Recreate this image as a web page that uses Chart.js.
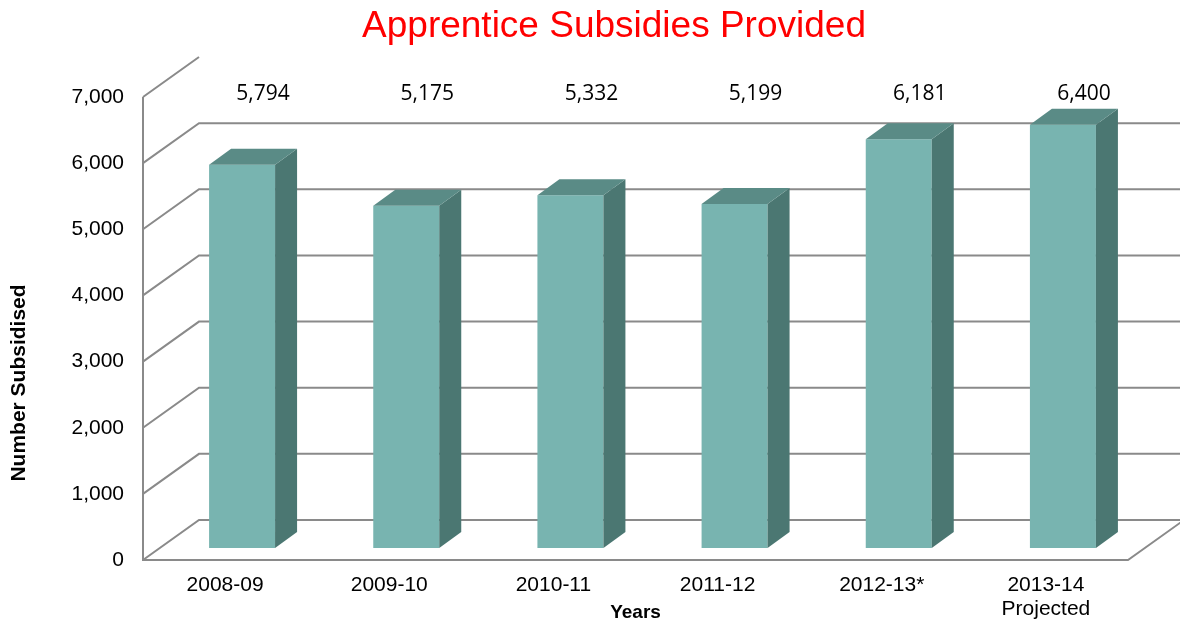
<!DOCTYPE html>
<html>
<head>
<meta charset="utf-8">
<title>Apprentice Subsidies Provided</title>
<script src="https://cdn.jsdelivr.net/npm/chart.js@4.4.1/dist/chart.umd.min.js"></script>
<style>
  html, body { margin: 0; padding: 0; background: #ffffff; }
  canvas { display: block; }
</style>
</head>
<body>
<canvas id="chart" width="1180" height="625"></canvas>
<script>
// Subsidised apprentices per financial year
const years = ['2008-09', '2009-10', '2010-11', '2011-12', '2012-13*', ['2013-14', 'Projected']];
const subsidised = [5794, 5175, 5332, 5199, 6181, 6400];

// Value axis range
const axisMin = 0;
const axisMax = 7000;
const axisStep = 1000;

const TITLE = 'Apprentice Subsidies Provided';
const SANS = "'Liberation Sans', Arial, sans-serif";
const LABEL_FONT = "'Open Sans', 'Noto Sans', sans-serif";
const GRID_COLOR = '#8a8a8a';
const FRONT_COLOR = '#78b4b0';
const TOP_COLOR = '#5a8b86';
const SIDE_COLOR = '#4b7772';

// Perspective offsets of the 3D box (pixels)
const WALL = { dx: 56, dy: -40 };   // front plane -> back wall
const FACE = { dx: 17, dy: -12 };   // front plane -> bar front face
const BAR = { dx: 22, dy: -16 };    // bar depth

const fmt = new Intl.NumberFormat('en-US');

const box3d = {
  id: 'box3d',
  beforeDatasetsDraw(chart) {
    const { ctx, chartArea: a, scales: { y } } = chart;
    ctx.save();
    ctx.strokeStyle = GRID_COLOR;
    ctx.lineWidth = 2;
    ctx.beginPath();
    // side wall diagonals and back wall gridlines
    y.ticks.forEach(t => {
      const py = y.getPixelForValue(t.value);
      ctx.moveTo(a.left, py);
      ctx.lineTo(a.left + WALL.dx, py + WALL.dy);
      if (t.value < y.max) ctx.lineTo(a.right + WALL.dx, py + WALL.dy);
    });
    // front vertical edge, floor front edge and right floor edge
    ctx.moveTo(a.left, y.getPixelForValue(y.max));
    ctx.lineTo(a.left, y.getPixelForValue(0));
    ctx.lineTo(a.right, y.getPixelForValue(0));
    ctx.lineTo(a.right + WALL.dx, y.getPixelForValue(0) + WALL.dy);
    ctx.stroke();
    ctx.restore();

    // bar front faces sit inside the box, behind the front plane
    ctx.save();
    ctx.translate(FACE.dx, FACE.dy);
  },
  afterDatasetsDraw(chart) {
    const { ctx, chartArea: a } = chart;
    ctx.restore();
    const meta = chart.getDatasetMeta(0);
    ctx.save();
    meta.data.forEach((bar, i) => {
      const p = bar.getProps(['x', 'y', 'base', 'width'], true);
      const l = p.x - p.width / 2 + FACE.dx;
      const r = p.x + p.width / 2 + FACE.dx;
      const t = p.y + FACE.dy;
      const b = p.base + FACE.dy;
      // right side face
      ctx.fillStyle = SIDE_COLOR;
      ctx.beginPath();
      ctx.moveTo(r, t);
      ctx.lineTo(r + BAR.dx, t + BAR.dy);
      ctx.lineTo(r + BAR.dx, b + BAR.dy);
      ctx.lineTo(r, b);
      ctx.closePath();
      ctx.fill();
      // top face
      ctx.fillStyle = TOP_COLOR;
      ctx.beginPath();
      ctx.moveTo(l, t);
      ctx.lineTo(l + BAR.dx, t + BAR.dy);
      ctx.lineTo(r + BAR.dx, t + BAR.dy);
      ctx.lineTo(r, t);
      ctx.closePath();
      ctx.fill();
      // value label
      ctx.fillStyle = '#000000';
      ctx.font = '21px ' + LABEL_FONT;
      ctx.textAlign = 'center';
      ctx.textBaseline = 'middle';
      ctx.fillText(fmt.format(subsidised[i]), p.x + 38, a.top - 3);
    });
    ctx.restore();
  },
  afterDraw(chart) {
    const { ctx } = chart;
    ctx.save();
    // chart title
    ctx.font = '37px ' + SANS;
    ctx.fillStyle = '#ff0000';
    ctx.textAlign = 'center';
    ctx.textBaseline = 'alphabetic';
    ctx.fillText(TITLE, 614, 37);
    // vertical axis title
    ctx.translate(19, 383);
    ctx.rotate(-Math.PI / 2);
    ctx.font = 'bold 21px ' + SANS;
    ctx.fillStyle = '#000000';
    ctx.textBaseline = 'middle';
    ctx.fillText('Number Subsidised', 0, 0);
    ctx.restore();
  }
};

new Chart(document.getElementById('chart'), {
  type: 'bar',
  data: {
    labels: years,
    datasets: [{
      data: subsidised,
      backgroundColor: FRONT_COLOR,
      borderWidth: 0,
      categoryPercentage: 1,
      barPercentage: 0.402
    }]
  },
  options: {
    responsive: false,
    devicePixelRatio: 1,
    animation: false,
    locale: 'en-US',
    layout: { padding: { left: 0, right: 52, top: 97, bottom: 0 } },
    plugins: {
      legend: { display: false },
      tooltip: { enabled: false },
      title: { display: false }
    },
    scales: {
      x: {
        grid: { display: false, drawTicks: false },
        border: { display: false },
        ticks: {
          color: '#000000',
          font: { family: SANS, size: 21, lineHeight: 1.15 },
          padding: 13,
          maxRotation: 0,
          autoSkip: false
        },
        title: {
          display: true,
          text: 'Years',
          color: '#000000',
          font: { family: SANS, size: 19, weight: 'bold', lineHeight: 1.2 },
          padding: { top: 0, bottom: 1 }
        },
        afterFit(scale) { scale.height = 65; }
      },
      y: {
        min: axisMin,
        max: axisMax,
        grid: { display: false, drawTicks: false },
        border: { display: false },
        ticks: {
          stepSize: axisStep,
          color: '#000000',
          font: { family: SANS, size: 21 },
          padding: 19
        },
        afterFit(scale) { scale.width = 143; }
      }
    }
  },
  plugins: [box3d]
});
</script>
</body>
</html>
